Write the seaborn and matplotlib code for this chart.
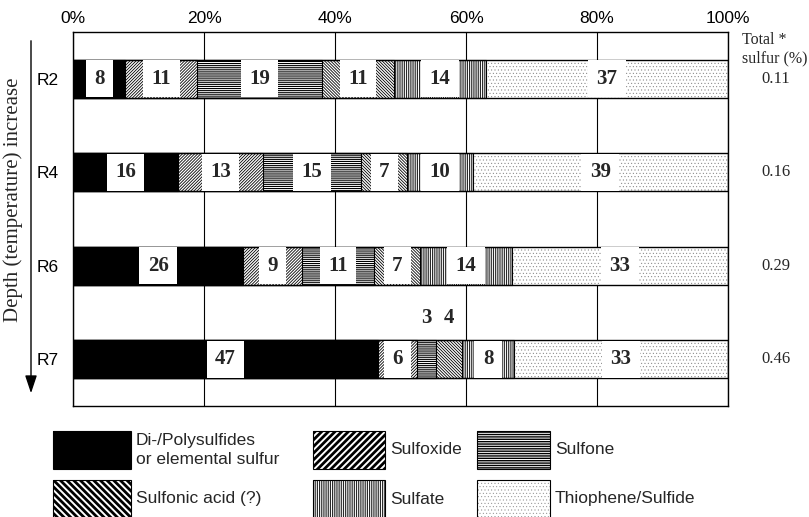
import numpy as np
import pandas as pd
import matplotlib
matplotlib.use("Agg")
import matplotlib.pyplot as plt
import seaborn as sns
from matplotlib.patches import Rectangle, FancyArrowPatch
from matplotlib import transforms

# Sulfur speciation per sample (%), read in stacking order
samples = ["R2", "R4", "R6", "R7"]
species = ["Di-/Polysulfides\nor elemental sulfur", "Sulfoxide", "Sulfone",
           "Sulfonic acid (?)", "Sulfate", "Thiophene/Sulfide"]
polysulfide = [8, 16, 26, 47]
sulfoxide = [11, 13, 9, 6]
sulfone = [19, 15, 11, 3]
sulfonic = [11, 7, 7, 4]
sulfate = [14, 10, 14, 8]
thiophene = [37, 39, 33, 33]
total_sulfur = ["0.11", "0.16", "0.29", "0.46"]
x_ticks = [0, 20, 40, 60, 80, 100]

sns.set_theme(style="white")
plt.rcParams["font.family"] = ["Liberation Sans", "DejaVu Sans"]
plt.rcParams["hatch.linewidth"] = 0.7
SERIF = ["Liberation Serif", "DejaVu Serif"]

values = np.array([polysulfide, sulfoxide, sulfone, sulfonic, sulfate, thiophene],
                  dtype=float).T
shares = values / values.sum(axis=1, keepdims=True) * 100
right_edges = np.cumsum(shares, axis=1)
left_edges = right_edges - shares

# face, hatch, hatch/edge colour, edge width, hatch width for bars and for legend keys
bar_styles = [
    dict(face="black", hatch=None, edge="black", lw=0.8, hlw=0.7),
    dict(face="white", hatch="/" * 11, edge="black", lw=0.8, hlw=0.6),
    dict(face="white", hatch="-" * 8, edge="black", lw=0.8, hlw=0.8),
    dict(face="white", hatch="\\" * 11, edge="black", lw=0.8, hlw=0.6),
    dict(face="white", hatch="|" * 9, edge="black", lw=0.8, hlw=0.6),
    dict(face="white", hatch="." * 5, edge="#777777", lw=0, hlw=0.3),
]
key_styles = [
    dict(face="black", hatch=None, edge="black", hlw=1.0),
    dict(face="white", hatch="/" * 5, edge="black", hlw=2.0),
    dict(face="white", hatch="-" * 7, edge="black", hlw=1.0),
    dict(face="white", hatch="\\" * 5, edge="black", hlw=2.0),
    dict(face="white", hatch="|" * 9, edge="black", hlw=0.6),
    dict(face="white", hatch="." * 5, edge="#888888", hlw=0.3),
]

W, H = 809, 517
fig = plt.figure(figsize=(W / 100, H / 100), dpi=100)
ax = fig.add_axes([73 / W, 1 - 406 / H, 655 / W, 374 / H])

BAR_H = 0.41
# stacked bars: cumulative totals drawn from the right-most species inward
for k in reversed(range(len(species))):
    st = bar_styles[k]
    df = pd.DataFrame({"sample": samples, "cum": right_edges[:, k]})
    n_before = len(ax.patches)
    sns.barplot(data=df, x="cum", y="sample", order=samples, orient="h",
                color=st["face"], saturation=1, width=BAR_H, errorbar=None, ax=ax)
    for p in ax.patches[n_before:]:
        p.set_facecolor(st["face"])
        p.set_edgecolor(st["edge"])
        p.set_linewidth(st["lw"])
        p.set_zorder(2)
        if st["hatch"]:
            p.set_hatch(st["hatch"])
        if hasattr(p, "set_hatch_linewidth"):
            p.set_hatch_linewidth(st["hlw"])

# outline of each full bar
ax.barh(np.arange(len(samples)), right_edges[:, -1], height=BAR_H, fill=False,
        edgecolor="black", linewidth=1.0, zorder=3)

# segment value labels
for i in range(len(samples)):
    for k in range(len(species)):
        cx = left_edges[i, k] + shares[i, k] / 2
        txt = f"{int(values[i, k])}"
        if shares[i, k] < 5:
            ax.text(cx, i - 0.44, txt, ha="center", va="center", fontsize=15,
                    fontweight="bold", family=SERIF, zorder=5)
        else:
            ax.text(cx, i, txt, ha="center", va="center", fontsize=15,
                    fontweight="bold", family=SERIF, zorder=5,
                    bbox=dict(boxstyle="square,pad=0.4", fc="white", ec="none"))

ax.set_xlim(0, 100)
ax.set_ylim(len(samples) - 0.5, -0.5)
ax.set_xticks(x_ticks)
ax.set_xticklabels([f"{v}%" for v in x_ticks])
ax.xaxis.tick_top()
ax.tick_params(axis="x", length=0, pad=4, labelsize=12.5, colors="black")
ax.tick_params(axis="y", length=0, pad=10, labelsize=12.5, colors="black")
ax.set_xlabel("")
ax.set_ylabel("")
ax.grid(axis="x", color="black", linewidth=0.8)
ax.grid(axis="y", visible=False)
ax.set_axisbelow(True)
for s in ax.spines.values():
    s.set_color("black")
    s.set_linewidth(1.0)

# total sulfur column on the right
blend = transforms.blended_transform_factory(ax.transAxes, ax.transData)
for i, v in enumerate(total_sulfur):
    ax.text(1.073, i, v, transform=blend, ha="center", va="center",
            fontsize=12, family=SERIF)

# overlay in pixel coordinates for annotations and legend keys
lg = fig.add_axes([0, 0, 1, 1], zorder=-1)
lg.set_xlim(0, W)
lg.set_ylim(H, 0)
lg.axis("off")

lg.text(742, 40, "Total *", ha="left", va="center", fontsize=11.5, family=SERIF)
lg.text(742, 58, "sulfur (%)", ha="left", va="center", fontsize=11.5, family=SERIF)

lg.add_patch(FancyArrowPatch((31, 38), (31, 396),
                             arrowstyle="-|>,head_length=0.9,head_width=0.3",
                             mutation_scale=12, lw=1, color="black"))
lg.text(13, 200, "Depth (temperature) increase", rotation=90, ha="center",
        va="center", fontsize=15, family=SERIF)

# legend keys
col_x = [53, 313, 477]
key_w = [78, 72, 73]
row_y = [431, 480]
KEY_H = 38
for k, name in enumerate(species):
    r, c = divmod(k, 3)
    st = key_styles[k]
    x0, y0 = col_x[c], row_y[r]
    rect = Rectangle((x0, y0), key_w[c], KEY_H, facecolor=st["face"],
                     edgecolor=st["edge"], linewidth=0, hatch=st["hatch"])
    if hasattr(rect, "set_hatch_linewidth"):
        rect.set_hatch_linewidth(st["hlw"])
    lg.add_patch(rect)
    lg.add_patch(Rectangle((x0, y0), key_w[c], KEY_H, fill=False,
                           edgecolor="black", linewidth=0.8))
    lg.text(x0 + key_w[c] + 5, y0 + KEY_H / 2, name, ha="left", va="center",
            fontsize=12.5, linespacing=1.25)

fig.savefig("out.png", dpi=100)
